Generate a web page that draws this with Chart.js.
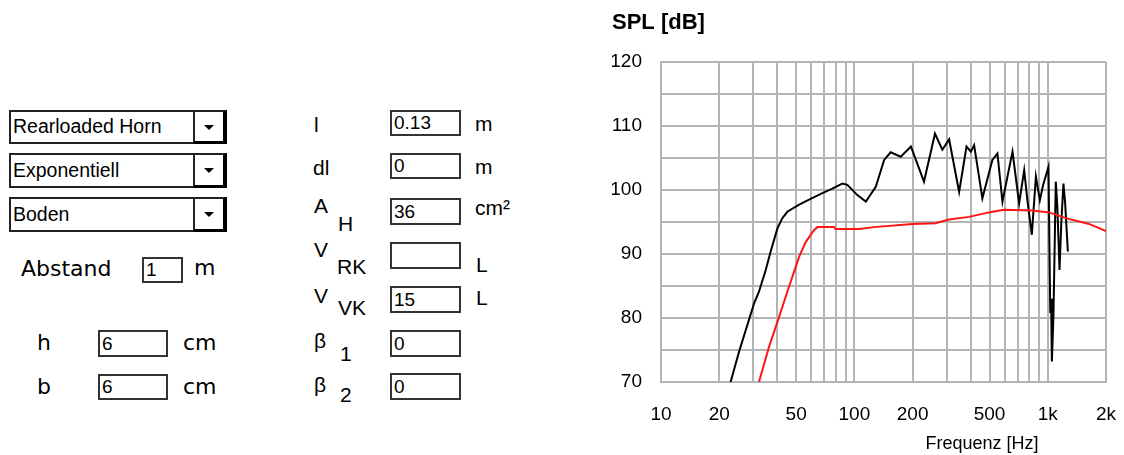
<!DOCTYPE html>
<html>
<head>
<meta charset="utf-8">
<title>SPL</title>
<script src="https://cdn.jsdelivr.net/npm/chart.js@4.4.1/dist/chart.umd.min.js"></script>
<style>
  html, body { margin: 0; padding: 0; background: #fff; }
  body { width: 1124px; height: 455px; position: relative; overflow: hidden;
         font-family: 'Liberation Sans', Arial, sans-serif; color: #000; }
  .t { position: absolute; white-space: nowrap; font-size: 21px; height: 24px; line-height: 24px; }
  .w { font-family: 'DejaVu Sans', Verdana, sans-serif; font-size: 22px; }
  .box { position: absolute; box-sizing: border-box; border: 2px solid #333; background: #fff;
         font-size: 19px; padding-left: 2px; white-space: nowrap; }
  .dd { position: absolute; box-sizing: border-box; border: 2px solid #222; background: #fff;
        font-size: 19.5px; white-space: nowrap; }
  .dd span { padding-left: 2px; }
  .dd .btn { position: absolute; top: -2px; right: -2px; bottom: -2px; width: 34px; box-sizing: border-box;
             border-top: 2px solid #222; border-left: 2px solid #222;
             border-right: 4px solid #000; border-bottom: 3px solid #000; }
  .dd .btn::after { content: ''; position: absolute; left: 50%; top: 50%; margin-left: -5px; margin-top: -2px;
                    border-left: 5px solid transparent; border-right: 5px solid transparent; border-top: 5px solid #000; }
  #chart { position: absolute; left: 600px; top: 0; }
</style>
</head>
<body>

<!-- enclosure selection -->
<div class="dd" style="left:9px;top:110px;width:218px;height:34px;line-height:29px;"><span>Rearloaded Horn</span><div class="btn"></div></div>
<div class="dd" style="left:9px;top:153px;width:218px;height:35px;line-height:30px;"><span>Exponentiell</span><div class="btn"></div></div>
<div class="dd" style="left:9px;top:197px;width:218px;height:35px;line-height:30px;"><span>Boden</span><div class="btn"></div></div>

<!-- distance and mouth size -->
<div class="t w" style="left:21px;top:257px;">Abstand</div>
<div class="box" style="left:142px;top:257px;width:41px;height:26px;line-height:22px;">1</div>
<div class="t w" style="left:194px;top:256px;">m</div>

<div class="t w" style="left:37px;top:331px;">h</div>
<div class="box" style="left:98px;top:330px;width:70px;height:27px;line-height:23px;">6</div>
<div class="t w" style="left:183px;top:331px;">cm</div>

<div class="t w" style="left:37px;top:375px;">b</div>
<div class="box" style="left:98px;top:374px;width:70px;height:26px;line-height:22px;">6</div>
<div class="t w" style="left:183px;top:375px;">cm</div>

<!-- horn parameters -->
<div class="t" style="left:314px;top:113px;">l</div>
<div class="box" style="left:390px;top:110px;width:71px;height:26px;line-height:22px;">0.13</div>
<div class="t" style="left:475px;top:112px;">m</div>

<div class="t" style="left:313px;top:156px;">dl</div>
<div class="box" style="left:390px;top:153px;width:71px;height:26px;line-height:22px;">0</div>
<div class="t" style="left:475px;top:155px;">m</div>

<div class="t" style="left:314px;top:194px;">A</div>
<div class="t" style="left:338px;top:212px;">H</div>
<div class="box" style="left:390px;top:198px;width:71px;height:27px;line-height:23px;">36</div>
<div class="t" style="left:475px;top:196px;">cm²</div>

<div class="t" style="left:314px;top:238px;">V</div>
<div class="t" style="left:337px;top:255px;">RK</div>
<div class="box" style="left:390px;top:242px;width:71px;height:27px;line-height:23px;"></div>
<div class="t" style="left:476px;top:253px;">L</div>

<div class="t" style="left:314px;top:284px;">V</div>
<div class="t" style="left:338px;top:296px;">VK</div>
<div class="box" style="left:390px;top:286px;width:71px;height:27px;line-height:23px;">15</div>
<div class="t" style="left:476px;top:286px;">L</div>

<div class="t" style="left:314px;top:329px;">β</div>
<div class="t" style="left:340px;top:342px;">1</div>
<div class="box" style="left:390px;top:330px;width:71px;height:27px;line-height:23px;">0</div>

<div class="t" style="left:314px;top:373px;">β</div>
<div class="t" style="left:340px;top:383px;">2</div>
<div class="box" style="left:390px;top:373px;width:71px;height:27px;line-height:23px;">0</div>

<canvas id="chart" width="524" height="455"></canvas>

<script>
// Frequency response of the horn system (black) and the driver alone (red), in Hz / dB.
const hornHz = [22.9, 25.3, 28.5, 30.3, 32.1, 34.8, 36.9, 40.0, 42.4, 45.0, 51.8, 58.3, 68.3, 76.9,
  86.7, 92, 103.6, 114.6, 129, 142.5, 154, 173.6, 196, 229, 261, 285, 309, 348, 380, 400, 416, 459,
  517, 549, 583, 657, 711, 755, 786, 827, 868, 910, 946, 1008, 1030, 1040, 1050, 1070, 1100, 1120,
  1150, 1175, 1205, 1230, 1270];
const hornDb = [70.0, 74.7, 79.7, 82.3, 84.1, 87.5, 90.4, 94.0, 95.6, 96.6, 97.7, 98.5, 99.5, 100.2,
  101.0, 100.8, 99.2, 98.2, 100.5, 104.7, 105.9, 105.2, 106.8, 101.3, 108.8, 106.3, 107.9, 99.7, 106.8, 106.0, 107.0, 98.7,
  104.7, 105.7, 98.2, 106.0, 97.9, 103.1, 98.2, 93.0, 102.1, 98.4, 100.8, 103.6, 80.8, 83.0, 73.2, 80.5, 101.3, 97.5,
  87.5, 95.0, 101.0, 97.9, 90.4];

const driverHz = [32.1, 36.2, 40.0, 45.0, 51.8, 56.1, 61.9, 64.4, 78.5, 80, 105.8, 126.5, 199.5, 262,
  309, 392, 495, 593, 834, 1016, 1240, 1635, 2000];
const driverDb = [70.0, 75.5, 79.4, 84.1, 89.6, 91.9, 93.75, 94.2, 94.2, 93.9, 93.9, 94.2, 94.7, 94.8,
  95.4, 95.8, 96.5, 96.9, 96.8, 96.5, 95.6, 94.7, 93.6];

// Axis ticks
const freqGrid = [10, 20, 30, 40, 50, 60, 70, 80, 90, 100, 200, 300, 400, 500, 600, 700, 800, 900, 1000, 2000];
const freqLabelValues = [10, 20, 50, 100, 200, 500, 1000, 2000];
const freqLabelTexts = ['10', '20', '50', '100', '200', '500', '1k', '2k'];
const splMin = 70, splMax = 120, splGridStep = 5, splLabelStep = 10;

const FONT = "'Liberation Sans', Arial, sans-serif";
const GRID = '#b4b4b4';

const toPoints = (xs, ys) => xs.map((x, i) => ({ x, y: ys[i] }));

// Axis caption placed near the right end of the frequency axis
const freqCaption = {
  id: 'freqCaption',
  afterDraw(chart) {
    const { ctx, chartArea } = chart;
    ctx.save();
    ctx.font = '18px ' + FONT;
    ctx.fillStyle = '#000';
    ctx.textAlign = 'center';
    ctx.textBaseline = 'middle';
    ctx.fillText('Frequenz [Hz]', chartArea.right - 124, chartArea.bottom + 62);
    ctx.restore();
  }
};

new Chart(document.getElementById('chart'), {
  type: 'line',
  data: {
    datasets: [
      { label: 'Chassis', data: toPoints(driverHz, driverDb), borderColor: '#ff1414', borderWidth: 2,
        pointRadius: 0, tension: 0, order: 0 },
      { label: 'Horn', data: toPoints(hornHz, hornDb), borderColor: '#000000', borderWidth: 2,
        pointRadius: 0, tension: 0, order: 1 }
    ]
  },
  options: {
    responsive: false,
    animation: false,
    devicePixelRatio: 1,
    layout: { autoPadding: false, padding: { left: 12, right: 18, top: 0, bottom: 0 } },
    plugins: {
      legend: { display: false },
      tooltip: { enabled: false },
      title: {
        display: true, text: 'SPL [dB]', align: 'start', color: '#000',
        font: { family: FONT, size: 22, weight: 'bold' },
        padding: { top: 10, bottom: 25.6 }
      }
    },
    scales: {
      x: {
        type: 'logarithmic', min: 10, max: 2000,
        grid: { color: GRID, lineWidth: 2, drawTicks: false },
        border: { color: GRID, width: 2 },
        ticks: {
          autoSkip: false, maxRotation: 0, minRotation: 0, padding: 21, color: '#000',
          font: { family: FONT, size: 19 },
          callback: (v) => {
            const i = freqLabelValues.indexOf(Number(v));
            return i >= 0 ? freqLabelTexts[i] : '';
          }
        },
        afterBuildTicks: (scale) => { scale.ticks = freqGrid.map(v => ({ value: v })); },
        afterFit: (scale) => { scale.height = 73; scale.paddingLeft = 0; scale.paddingRight = 0; }
      },
      y: {
        min: splMin, max: splMax,
        grid: { color: GRID, lineWidth: 2, drawTicks: false },
        border: { color: GRID, width: 2 },
        ticks: {
          stepSize: splGridStep, padding: 19, color: '#000',
          font: { family: FONT, size: 19 },
          callback: (v) => (v % splLabelStep === 0 ? String(v) : '')
        },
        afterFit: (scale) => { scale.width = 49; scale.paddingTop = 0; scale.paddingBottom = 0; }
      }
    }
  },
  plugins: [freqCaption]
});
</script>
</body>
</html>
